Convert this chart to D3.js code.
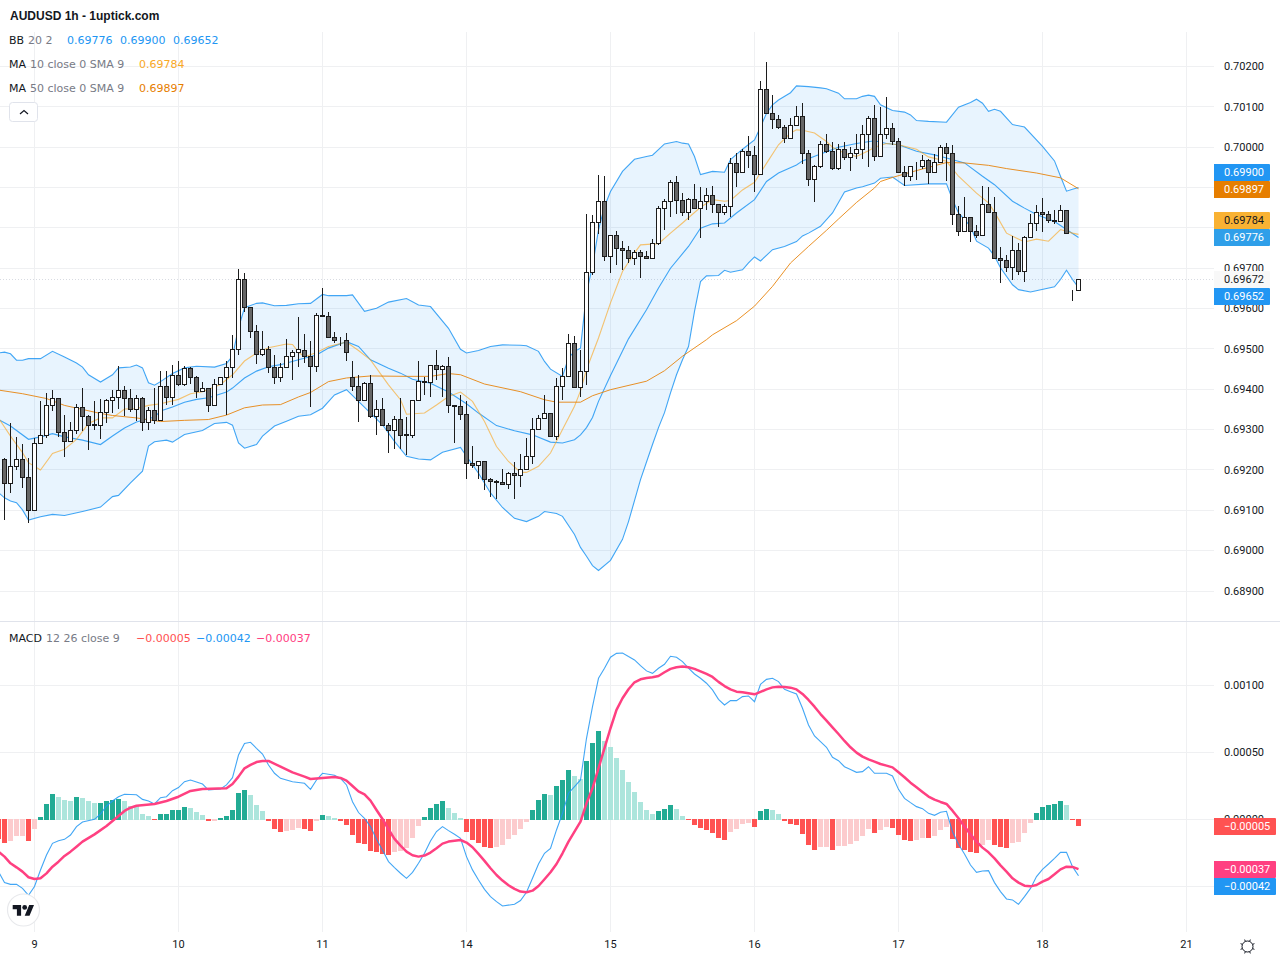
<!DOCTYPE html>
<html>
<head>
<meta charset="utf-8">
<title>AUDUSD 1h</title>
<script src="https://cdn.jsdelivr.net/npm/d3@7/dist/d3.min.js"></script>
<style>
  html, body { margin: 0; padding: 0; background: #fff; }
  svg { display: block; }
  text { font-family: Roboto, sans-serif; }
</style>
</head>
<body>
<svg id="chart" width="1280" height="960"></svg>
<script>
// Hourly candles, quoted in 0.00001 price points.
const open = [
69225,69166,69208,69225,69182,69099,69265,69286,69361,69376,
69292,69271,69299,69356,69332,69311,69311,69342,69371,69379,
69396,69376,69349,69376,69317,69347,69322,69408,69379,69433,
69411,69451,69428,69394,69403,69361,69411,69428,69453,69498,
69671,69602,69542,69485,69498,69453,69428,69455,69480,69490,
69497,69482,69457,69584,69581,69529,69522,69522,69430,69408,
69373,69415,69333,69351,69311,69299,69324,69286,69286,69371,
69420,69418,69460,69450,69457,69361,69358,69338,69217,69212,
69220,69177,69172,69170,69165,69192,69187,69202,69234,69301,
69328,69341,69284,69408,69432,69514,69405,69445,69690,69814,
69866,69730,69780,69750,69745,69725,69738,69730,69725,69762,
69849,69866,69913,69869,69837,69871,69849,69866,69881,69859,
69837,69854,69960,69938,69990,69980,69933,70144,70084,70069,
70050,70022,70054,70077,69985,69921,69953,70007,69990,69946,
69995,69975,69985,69995,70032,70072,69976,70032,70047,70015,
69938,69928,69952,69953,69966,69938,69961,70000,69985,69832,
69792,69825,69790,69782,69857,69837,69725,69720,69703,69745,
69693,69777,69810,69839,69834,69819,69817,69844,69645,69644];
const close = [
69166,69208,69225,69182,69099,69265,69286,69361,69376,69292,
69271,69299,69356,69332,69311,69312,69342,69371,69379,69396,
69376,69349,69376,69317,69347,69322,69408,69379,69433,69411,
69451,69428,69394,69403,69361,69411,69428,69453,69498,69671,
69602,69542,69485,69498,69453,69428,69455,69480,69490,69498,
69482,69457,69584,69581,69529,69522,69521,69492,69408,69373,
69415,69333,69351,69311,69299,69324,69286,69287,69371,69420,
69418,69460,69450,69457,69361,69358,69338,69217,69212,69220,
69177,69172,69170,69165,69192,69187,69202,69234,69301,69328,
69341,69284,69408,69432,69514,69405,69445,69690,69814,69866,
69730,69780,69750,69745,69725,69738,69730,69725,69762,69849,
69866,69913,69869,69837,69871,69849,69866,69881,69859,69837,
69854,69960,69938,69990,69980,69933,70144,70084,70069,70050,
70022,70054,70077,69985,69921,69953,70007,69990,69946,69995,
69975,69985,69995,70032,70072,69976,70032,70047,70015,69938,
69928,69951,69951,69966,69938,69961,70000,69985,69832,69792,
69825,69790,69782,69857,69837,69725,69720,69703,69745,69693,
69777,69810,69839,69834,69819,69817,69844,69787,69644,69672];
const high = [
69230,69317,69282,69265,69230,69278,69372,69391,69399,69376,
69337,69319,69364,69403,69337,69372,69375,69376,69399,69458,
69407,69401,69385,69381,69356,69403,69445,69446,69461,69470,
69457,69455,69434,69419,69403,69426,69428,69470,69535,69699,
69687,69602,69559,69545,69507,69484,69465,69525,69498,69579,
69536,69520,69590,69650,69591,69541,69529,69539,69470,69435,
69419,69436,69373,69379,69316,69334,69379,69331,69374,69470,
69431,69460,69498,69461,69480,69361,69386,69370,69260,69222,
69222,69180,69175,69202,69195,69220,69240,69279,69328,69335,
69385,69341,69428,69452,69536,69532,69497,69835,69832,69931,
69928,69781,69792,69767,69754,69745,69746,69742,69772,69855,
69871,69918,69929,69886,69874,69908,69901,69898,69903,69859,
69859,69973,69985,69995,70028,70002,70163,70210,70129,70079,
70054,70072,70102,70109,69993,69955,70015,70033,70012,70007,
70012,70000,70032,70055,70077,70105,70099,70124,70060,70023,
69953,69954,69963,69980,69971,69983,70005,70010,70005,69854,
69877,69827,69807,69904,69902,69877,69752,69733,69780,69763,
69781,69834,69857,69874,69842,69844,69857,69844,69645,69674];
const low = [
69077,69142,69200,69155,69069,69099,69265,69279,69346,69281,
69232,69271,69288,69296,69249,69300,69276,69317,69340,69350,
69333,69343,69321,69296,69300,69314,69322,69362,69362,69408,
69408,69412,69378,69393,69343,69361,69411,69336,69428,69485,
69592,69528,69462,69482,69441,69414,69417,69455,69424,69455,
69465,69357,69442,69579,69529,69514,69508,69471,69395,69320,
69371,69328,69286,69311,69241,69252,69252,69236,69278,69371,
69387,69382,69423,69382,69340,69266,69324,69177,69204,69177,
69150,69133,69127,69165,69152,69128,69159,69202,69216,69301,
69326,69284,69275,69373,69430,69405,69381,69411,69684,69784,
69717,69687,69709,69695,69713,69707,69676,69723,69723,69758,
69795,69826,69835,69830,69820,69846,69776,69845,69837,69801,
69832,69826,69901,69936,69949,69890,69933,70084,70046,70045,
70010,70022,70054,69958,69903,69863,69948,69985,69943,69943,
69968,69942,69970,69971,69952,69965,69976,70020,70005,69938,
69903,69915,69919,69946,69909,69938,69961,69915,69807,69779,
69792,69764,69776,69779,69837,69723,69663,69690,69672,69683,
69665,69777,69792,69789,69812,69810,69814,69787,69618,69644];

// Indicator lines as [bar, value] pairs; bars are counted from the first candle.
const bbUpper = [[-1,69490],[0,69492],[1,69488],[2,69472],[3,69472],[4,69476],[6,69476],[8,69494],[10,69480],[12,69465],[13,69455],[14,69436],[16,69418],[18,69436],[19,69453],[21,69455],[22,69460],[23,69453],[24,69416],[25,69410],[26,69419],[28,69439],[30,69453],[32,69457],[35,69455],[37,69464],[38,69482],[39,69552],[40,69602],[42,69613],[43,69614],[45,69607],[47,69608],[49,69612],[51,69613],[53,69635],[54,69632],[57,69632],[58,69634],[60,69593],[62,69601],[64,69616],[67,69625],[69,69609],[71,69605],[74,69551],[76,69499],[77,69490],[79,69496],[81,69506],[83,69510],[86,69509],[87,69508],[89,69494],[90,69469],[91,69450],[93,69432],[94,69478],[95,69494],[96,69502],[97,69639],[98,69705],[99,69795],[100,69853],[101,69890],[103,69940],[105,69970],[107,69977],[108,69980],[110,70008],[112,70014],[113,70010],[114,70008],[115,69977],[116,69932],[118,69940],[120,69938],[121,69969],[123,69995],[125,70018],[126,70050],[127,70084],[128,70105],[129,70117],[131,70135],[132,70152],[134,70150],[136,70147],[137,70145],[139,70134],[140,70120],[142,70120],[143,70126],[144,70129],[145,70126],[146,70105],[148,70091],[150,70087],[151,70080],[152,70066],[154,70064],[157,70062],[159,70099],[161,70111],[162,70119],[163,70109],[164,70089],[165,70094],[166,70089],[168,70056],[170,70050],[173,70002],[175,69966],[176,69928],[177,69891],[178,69896],[179,69900]];
const bbMiddle = [[-1,69325],[1,69309],[4,69276],[6,69282],[8,69290],[10,69282],[13,69274],[16,69263],[18,69284],[20,69304],[22,69319],[25,69331],[26,69346],[28,69356],[30,69368],[32,69375],[34,69379],[37,69393],[38,69403],[40,69428],[42,69445],[44,69456],[46,69461],[49,69473],[52,69485],[54,69502],[57,69518],[59,69506],[61,69473],[64,69452],[66,69440],[68,69425],[71,69415],[74,69393],[77,69364],[79,69341],[82,69310],[85,69297],[88,69287],[91,69269],[93,69267],[95,69275],[96,69287],[97,69305],[98,69330],[99,69370],[101,69434],[104,69525],[107,69597],[109,69651],[111,69700],[114,69754],[116,69799],[118,69810],[120,69812],[122,69837],[125,69870],[127,69915],[129,69936],[132,69956],[133,69966],[136,69983],[139,70000],[142,70009],[145,70016],[147,70009],[149,70006],[152,69990],[155,69981],[157,69973],[160,69961],[163,69928],[165,69907],[168,69866],[170,69849],[172,69833],[175,69816],[179,69776]];
const bbLower = [[-1,69144],[0,69131],[1,69123],[2,69119],[3,69101],[4,69076],[6,69084],[8,69090],[10,69087],[13,69097],[16,69108],[18,69134],[19,69137],[21,69168],[23,69197],[24,69259],[25,69270],[27,69274],[28,69269],[30,69288],[33,69298],[35,69315],[37,69318],[38,69311],[39,69267],[40,69254],[42,69263],[43,69284],[45,69309],[47,69321],[49,69333],[51,69337],[53,69353],[55,69386],[57,69399],[59,69370],[61,69341],[63,69312],[65,69271],[67,69234],[69,69227],[71,69225],[73,69244],[76,69256],[77,69234],[79,69192],[81,69143],[83,69107],[85,69080],[87,69072],[89,69085],[90,69097],[92,69092],[93,69085],[95,69040],[96,69008],[97,68986],[98,68963],[99,68951],[101,68976],[103,69028],[104,69072],[106,69176],[108,69263],[109,69305],[110,69342],[111,69391],[112,69436],[113,69473],[114,69506],[115,69593],[116,69667],[117,69681],[119,69682],[120,69695],[121,69690],[123,69696],[124,69713],[125,69728],[126,69718],[128,69746],[130,69754],[132,69766],[133,69780],[134,69787],[136,69804],[138,69837],[140,69889],[142,69899],[143,69902],[145,69911],[146,69923],[148,69926],[150,69905],[154,69909],[157,69909],[158,69870],[159,69837],[161,69804],[162,69767],[164,69750],[165,69730],[166,69701],[168,69659],[169,69647],[171,69641],[175,69654],[176,69672],[177,69695],[178,69672],[179,69652]];
const ma10 = [[-1,69329],[1,69284],[3,69243],[4,69218],[6,69200],[8,69241],[10,69251],[12,69276],[14,69315],[16,69329],[18,69329],[20,69351],[22,69352],[24,69360],[26,69364],[29,69375],[31,69389],[33,69394],[36,69412],[38,69436],[40,69470],[42,69490],[44,69503],[47,69512],[48,69511],[49,69492],[50,69480],[52,69491],[54,69506],[57,69517],[59,69496],[61,69473],[64,69411],[66,69374],[67,69338],[70,69341],[72,69361],[74,69382],[76,69393],[78,69370],[80,69320],[82,69258],[84,69221],[86,69194],[87,69194],[89,69209],[91,69242],[93,69300],[95,69358],[96,69396],[97,69449],[99,69527],[101,69614],[103,69692],[105,69738],[106,69758],[109,69761],[111,69787],[113,69812],[116,69851],[118,69870],[120,69866],[121,69868],[123,69894],[125,69913],[127,69960],[129,70006],[131,70035],[132,70043],[133,70042],[135,70035],[137,70014],[138,70000],[140,69985],[142,69977],[144,69991],[145,70000],[147,70009],[149,70006],[152,69995],[154,69976],[157,69965],[159,69928],[162,69886],[164,69862],[165,69839],[167,69787],[170,69765],[172,69772],[174,69767],[176,69796],[178,69787],[179,69784]];
const ma50 = [[-1,69398],[3,69389],[7,69377],[10,69360],[13,69350],[16,69340],[18,69335],[22,69329],[26,69320],[30,69323],[34,69325],[37,69336],[40,69354],[43,69361],[46,69362],[49,69381],[51,69392],[54,69419],[57,69428],[61,69433],[67,69432],[71,69432],[74,69439],[76,69436],[80,69413],[86,69394],[90,69374],[92,69368],[96,69368],[98,69384],[101,69399],[107,69420],[110,69446],[113,69482],[117,69523],[118,69535],[122,69570],[125,69606],[128,69655],[131,69713],[134,69754],[137,69794],[139,69822],[142,69863],[145,69899],[146,69915],[148,69925],[151,69938],[155,69954],[157,69962],[160,69961],[164,69955],[167,69947],[172,69936],[176,69924],[179,69897]];

// MACD pane, in 0.00001 units. The histogram starts one bar before the first candle.
const macdHist = [-14.4,
-17.7,-16,-12.4,-12.3,-16,-7.2,1.7,11.4,18.9,16.7,
14.4,13.7,16.7,15.9,13.7,12.2,12.3,13.7,14.4,15.2,
13.7,10,9.9,4,2.5,-0.7,4,4.1,7,7.1,
9.2,8.5,5.5,3.2,-1.2,-1.1,1,2.5,7,19.7,
21.9,18.2,10.7,6.2,-1.2,-7.2,-9.5,-8.7,-8,-6.5,
-7.2,-8.7,-1.2,3.2,2.5,1,-1.2,-4.2,-11.7,-17.7,
-18.4,-23.6,-24.4,-25.9,-26.6,-24.4,-23.6,-21.4,-13.9,-5,
1.7,8.5,11.4,13.7,8.5,4.7,1,-9.5,-15.4,-17.7,
-20.6,-21.4,-20.6,-19.2,-14.7,-11.7,-7.2,-2,7,14.4,
18.9,18.2,24.9,29.4,36.8,32.3,30,43.5,57,65.9,
58.5,54,45.8,36.8,27.9,20.4,12.9,7,4,6.2,
7.7,10.7,7.7,2.5,-0.5,-4.2,-6.5,-8,-10.2,-13.9,
-15.4,-9.5,-7.2,-3.5,-2.7,-5.7,6.2,7.7,7,4,
-1.2,-3.5,-4.2,-10.9,-19.2,-22.9,-20.6,-20.5,-22.9,-19.9,
-19.8,-18.4,-16.2,-12.4,-7.2,-10.2,-8,-5.7,-6.5,-11.7,
-15.4,-16.2,-15.4,-13.9,-14,-12.4,-8,-5.7,-14.7,-21.4,
-22.9,-24.4,-25.1,-19.2,-15.4,-19.2,-20.6,-21.4,-17.7,-16.9,
-10.2,-2.7,4.7,9.2,10.7,11.4,13.7,10.7,-0.5,-5];
const macdLine = [[-1,-39],[0,-47],[1,-48.4],[2,-48.4],[3,-51.4],[4,-56.6],[5,-50],[6,-37.7],[7,-26.5],[8,-17.8],[9,-15.8],[10,-14.8],[11,-11.6],[12,-5.3],[13,-1.9],[15,0.1],[16,4.1],[17,10.1],[18,13.8],[19,17],[20,18.8],[22,18.5],[23,15],[24,13.8],[25,11.6],[26,16.3],[27,17],[28,21.5],[29,23.8],[30,28.2],[31,29.5],[33,26.5],[34,22],[36,22.8],[37,25.8],[38,31.2],[39,48.1],[40,56.8],[41,57.6],[42,53.1],[43,48.9],[44,40.7],[45,34.5],[46,30.7],[48,28.2],[50,27],[51,22.5],[52,29.5],[53,34.5],[55,33],[56,30.7],[57,25.8],[58,13.3],[59,5.2],[60,0.9],[61,-5.3],[62,-14.8],[63,-22.7],[64,-31.4],[65,-35.9],[66,-40.1],[67,-43.9],[68,-39.4],[69,-32.7],[70,-25.2],[71,-16],[72,-9],[73,-5.3],[74,-8.3],[75,-11],[76,-14],[77,-27.7],[78,-37.6],[79,-45.1],[80,-52.1],[81,-57.5],[82,-61.3],[83,-64.5],[85,-63.3],[86,-60.5],[87,-54.3],[88,-43.9],[89,-33.2],[90,-25.2],[91,-21.5],[92,-7.8],[93,4.6],[94,19.6],[95,24.5],[96,29.5],[97,60.6],[98,84.2],[99,105.4],[100,112.9],[101,121.1],[102,124],[103,124.3],[104,121.6],[105,119.1],[106,114.8],[107,110.9],[108,109.1],[109,112.9],[110,115.8],[111,121.8],[112,121.1],[113,117.8],[114,112.9],[115,108.6],[116,105.4],[117,101.7],[118,96.7],[119,89.7],[120,85.5],[121,88.7],[122,88.7],[123,91.7],[124,92.2],[125,87.9],[126,100.9],[127,104.6],[128,105.4],[129,102.9],[130,97.1],[131,95.4],[132,93.7],[133,83],[134,70.5],[135,62.3],[136,58.1],[137,53.9],[138,46.4],[139,43.9],[140,39.4],[141,37.4],[142,35.2],[143,35.7],[144,39.4],[145,34.5],[147,34.5],[148,32.5],[149,22.5],[150,15.8],[151,12.6],[152,9.6],[153,8.1],[154,4.6],[155,3.1],[156,5.4],[157,6.1],[158,-9.1],[159,-18.5],[160,-25.7],[161,-34],[162,-39.4],[163,-38.4],[164,-38.2],[165,-47.1],[166,-53.8],[167,-59.3],[168,-60],[169,-63.3],[170,-57.6],[171,-51.4],[172,-42.6],[173,-37.2],[174,-33.2],[175,-29],[176,-24.5],[177,-24.5],[178,-35.2],[179,-42]];
const macdSignal = [[-1,-24],[0,-27.7],[1,-32.7],[2,-35.7],[3,-38.9],[4,-43.1],[5,-44.4],[6,-43.9],[7,-40.2],[8,-35.2],[9,-31.5],[10,-27.2],[11,-24],[12,-20.3],[13,-16.5],[15,-11.1],[17,-4.8],[18,-1.1],[19,2.6],[20,6.4],[21,8.8],[22,10.3],[25,11.6],[27,13.8],[29,17],[31,21.3],[33,22.8],[37,23.3],[38,26.5],[39,32],[40,38.2],[41,40.7],[42,42.9],[43,43.7],[44,43.7],[46,39.4],[48,35.2],[50,32],[51,30.2],[53,31],[55,31.7],[56,31],[57,29],[58,25],[59,21],[60,18.8],[61,14.1],[62,7.1],[63,0.4],[64,-7.3],[65,-14.5],[66,-19.5],[67,-24],[68,-26.7],[69,-27.7],[70,-26.9],[71,-24.7],[72,-21.5],[73,-18],[74,-16.5],[76,-15.3],[77,-17.2],[78,-20.7],[79,-25.7],[80,-30.9],[81,-36.4],[82,-41.4],[83,-45.6],[84,-49.1],[85,-51.8],[86,-53.8],[87,-54.3],[88,-53.1],[89,-49.6],[90,-44.6],[91,-39.4],[92,-33.2],[93,-25.2],[94,-16.5],[95,-9],[96,-1.6],[97,12.1],[98,23.3],[99,38.2],[100,53.2],[101,68.1],[102,81.8],[103,90.5],[104,97.2],[105,102.4],[106,104.6],[107,105.6],[108,106.1],[109,107.1],[110,109.9],[111,112.4],[112,113.6],[113,114.1],[114,113.6],[115,112.4],[116,110.6],[117,108.6],[118,106.4],[119,102.7],[120,99.6],[121,97.1],[122,95.4],[123,94.9],[124,94.2],[125,93.4],[126,95.2],[127,97.1],[128,98.6],[129,99.1],[130,98.9],[131,98.4],[132,97.1],[133,93.7],[134,89.2],[135,84.2],[136,78.7],[137,73.8],[138,68.8],[139,63.8],[140,58.6],[141,53.9],[142,49.9],[143,46.9],[144,44.9],[145,43.2],[146,41.4],[147,40.2],[148,38.9],[149,35.2],[150,31.5],[151,27.5],[152,24],[153,20.5],[154,17.1],[155,14.8],[156,13.1],[157,11.6],[158,6.6],[159,0.9],[160,-5.3],[161,-11.1],[162,-16.5],[163,-21],[164,-24.5],[165,-29],[166,-34.2],[167,-38.9],[168,-43.9],[169,-47.1],[170,-49.4],[171,-49.9],[172,-48.9],[173,-46.4],[174,-44.4],[175,-40.9],[176,-37.2],[177,-35.2],[178,-35.4],[179,-37]];

// Axis ticks and labels.
const priceTicks = [0.702,0.701,0.700,0.699,0.698,0.697,0.696,0.695,0.694,0.693,0.692,0.691,0.690,0.689];
const macdTicks = [0.001,0.0005,0,-0.0005];
const dayBars = [5,29,53,77,101,125,149,173,197];
const dayLabels = ["9","10","11","14","15","16","17","18","21"];

const colors = {
  ink: "#131722", muted: "#787b86", grid: "#eff0f2", sep: "#e0e3eb",
  bb: "#2196f3", bbFill: "rgba(33,150,243,0.1)", ma10: "#f9a825", ma50: "#e67e00",
  wick: "#1c1c1c", down: "#666666", up: "#ffffff",
  teal: "#22ab94", tealLight: "#ace5dc", red: "#ff5252", pink: "#fccbcd",
  signal: "#ff4081"
};
const legendFont = "'DejaVu Sans', sans-serif";

const svg = d3.select("#chart");
const x = d3.scaleLinear().domain([0, 179]).range([4.5, 1078.5]);
const yPrice = d3.scaleLinear().domain([0.702, 0.689]).range([66.5, 591]);
const yMacd = d3.scaleLinear().domain([0.001, -0.0005]).range([685.5, 886.5]);
const toPrice = v => v * 1e-5;
const fmt = v => d3.format(".5f")(v).replace("-", "\u2212");
const crisp = v => Math.round(v - 0.5) + 0.5;

// Background grid for both panes.
const gridG = svg.append("g").attr("fill", "none").attr("stroke", colors.grid);
gridG.selectAll(".gv").data(dayBars).join("line")
  .attr("x1", d => x(d)).attr("x2", d => x(d)).attr("y1", 32).attr("y2", 932);
gridG.selectAll(".gp").data(priceTicks).join("line")
  .attr("x1", 0).attr("x2", 1214)
  .attr("y1", d => crisp(yPrice(d))).attr("y2", d => crisp(yPrice(d)));
gridG.selectAll(".gm").data(macdTicks).join("line")
  .attr("x1", 0).attr("x2", 1214)
  .attr("y1", d => crisp(yMacd(d))).attr("y2", d => crisp(yMacd(d)));

svg.append("line").attr("x1", 0).attr("x2", 1280).attr("y1", 621.5).attr("y2", 621.5)
  .attr("stroke", colors.sep);

// Dotted last-price line.
svg.append("line").attr("x1", 0).attr("x2", 1214)
  .attr("y1", crisp(yPrice(toPrice(close[close.length - 1]))))
  .attr("y2", crisp(yPrice(toPrice(close[close.length - 1]))))
  .attr("stroke", "#d8dbe2").attr("stroke-dasharray", "1 2");

// Bollinger band fill and the three band lines.
const priceLine = d3.line().x(d => x(d[0])).y(d => yPrice(toPrice(d[1])));
svg.append("path")
  .attr("d", priceLine(bbUpper.concat(bbLower.slice().reverse())) + "Z")
  .attr("fill", colors.bbFill);
[[bbUpper, colors.bb, 0.85, 1.1], [bbMiddle, colors.bb, 0.85, 1.1], [bbLower, colors.bb, 0.85, 1.1],
 [ma10, colors.ma10, 0.65, 1.1], [ma50, colors.ma50, 0.85, 1]].forEach(([series, color, alpha, width]) => {
  svg.append("path").attr("d", priceLine(series))
    .attr("fill", "none").attr("stroke", color).attr("stroke-opacity", alpha).attr("stroke-width", width);
});

// Candles: one wick and one body per bar.
const bars = d3.range(open.length).map(i => ({ i, o: toPrice(open[i]), c: toPrice(close[i]), h: toPrice(high[i]), l: toPrice(low[i]) }));
const candleG = svg.append("g");
candleG.selectAll(".wick").data(bars).join("line")
  .attr("x1", d => x(d.i)).attr("x2", d => x(d.i))
  .attr("y1", d => Math.round(yPrice(d.h))).attr("y2", d => Math.round(yPrice(d.l)))
  .attr("stroke", colors.wick);
candleG.selectAll(".body").data(bars).join("rect")
  .attr("x", d => x(d.i) - 2).attr("width", 4)
  .attr("y", d => crisp(yPrice(Math.max(d.o, d.c))))
  .attr("height", d => crisp(yPrice(Math.min(d.o, d.c))) - crisp(yPrice(Math.max(d.o, d.c))))
  .attr("fill", d => d.c < d.o ? colors.down : colors.up)
  .attr("stroke", colors.wick);

// MACD histogram; shade depends on the sign and on the change from the previous bar.
const histData = macdHist.map((v, i) => ({ bar: i - 1, v: v * 1e-5, prev: i ? macdHist[i - 1] * 1e-5 : 0 }));
const histColor = d => d.v >= 0
  ? (d.v > d.prev ? colors.teal : colors.tealLight)
  : (d.v < d.prev ? colors.red : colors.pink);
svg.append("g").selectAll("rect").data(histData).join("rect")
  .attr("x", d => x(d.bar) - 2.5).attr("width", 5)
  .attr("y", d => d.v >= 0 ? Math.round(yMacd(d.v)) : 819)
  .attr("height", d => d.v >= 0 ? 820 - Math.round(yMacd(d.v)) : Math.round(yMacd(d.v)) - 819)
  .attr("fill", histColor);

const macdPath = d3.line().x(d => x(d[0])).y(d => yMacd(d[1] * 1e-5));
svg.append("path").attr("d", macdPath(macdLine)).attr("fill", "none")
  .attr("stroke", colors.bb).attr("stroke-opacity", 0.85).attr("stroke-width", 1.1);
svg.append("path").attr("d", macdPath(macdSignal)).attr("fill", "none")
  .attr("stroke", colors.signal).attr("stroke-width", 2.5).attr("stroke-linejoin", "round");

// Price, MACD and time axes.
function styleAxis(g) {
  g.select(".domain").remove();
  g.selectAll("text").attr("fill", colors.ink).style("font-size", "11px").style("font-family", "Roboto, sans-serif");
}
svg.append("g").attr("transform", "translate(1224,-0.2)")
  .call(d3.axisRight(yPrice).tickValues(priceTicks).tickSize(0).tickPadding(0).tickFormat(fmt))
  .call(styleAxis);
svg.append("g").attr("transform", "translate(1224,-0.2)")
  .call(d3.axisRight(yMacd).tickValues(macdTicks).tickSize(0).tickPadding(0).tickFormat(fmt))
  .call(styleAxis);
svg.append("g").attr("transform", "translate(-0.5,937)")
  .call(d3.axisBottom(x).tickValues(dayBars).tickSize(0).tickPadding(3).tickFormat((d, i) => dayLabels[i]))
  .call(styleAxis);

// Value tags on the price axis.
const lastBB = [bbMiddle, bbUpper, bbLower].map(s => s[s.length - 1][1]);
const lastMa10 = ma10[ma10.length - 1][1], lastMa50 = ma50[ma50.length - 1][1];
const lastClose = close[close.length - 1];
const lastHist = macdHist[macdHist.length - 1], lastMacd = macdLine[macdLine.length - 1][1], lastSig = macdSignal[macdSignal.length - 1][1];
const tags = [
  { top: 164, v: toPrice(lastBB[1]), bg: "#2196f3", fg: "#fff", w: 56 },
  { top: 181, v: toPrice(lastMa50), bg: "#e67e00", fg: "#fff", w: 56 },
  { top: 212, v: toPrice(lastMa10), bg: "#f9b233", fg: "#131722", w: 56 },
  { top: 229, v: toPrice(lastBB[0]), bg: "#2f9fe9", fg: "#fff", w: 56 },
  { top: 271, v: toPrice(lastClose), bg: "#f8f8f8", fg: "#131722", w: 56 },
  { top: 288, v: toPrice(lastBB[2]), bg: "#2196f3", fg: "#fff", w: 56 },
  { top: 818, v: lastHist * 1e-5, bg: colors.red, fg: "#fff", w: 62 },
  { top: 861, v: lastSig * 1e-5, bg: colors.signal, fg: "#fff", w: 62 },
  { top: 878, v: lastMacd * 1e-5, bg: "#2196f3", fg: "#fff", w: 62 }
];
const tagG = svg.append("g").selectAll("g").data(tags).join("g")
  .attr("transform", d => `translate(1214,${d.top})`);
tagG.append("path")
  .attr("d", d => `M0,0H${d.w - 1}Q${d.w},0 ${d.w},1V16Q${d.w},17 ${d.w - 1},17H0Z`)
  .attr("fill", d => d.bg);
tagG.append("text").attr("x", 10).attr("y", 12)
  .attr("fill", d => d.fg).style("font-size", "11px").text(d => fmt(d.v));

// Legend rows.
function legendRow(y, parts) {
  parts.forEach(p => {
    svg.append("text").attr("x", p.x).attr("y", y).attr("fill", p.color)
      .style("font-family", legendFont).style("font-size", "11px").text(p.text);
  });
}
svg.append("text").attr("x", 10).attr("y", 20)
  .style("font-family", "'Liberation Sans', Arial, sans-serif").style("font-weight", "bold")
  .style("font-size", "12px").attr("fill", colors.ink).text("AUDUSD 1h - 1uptick.com");
legendRow(44, [
  { x: 9, text: "BB", color: colors.ink }, { x: 28, text: "20 2", color: colors.muted },
  { x: 67, text: fmt(toPrice(lastBB[0])), color: colors.bb },
  { x: 120, text: fmt(toPrice(lastBB[1])), color: colors.bb },
  { x: 173, text: fmt(toPrice(lastBB[2])), color: colors.bb }
]);
legendRow(68, [
  { x: 9, text: "MA", color: colors.ink }, { x: 30, text: "10 close 0 SMA 9", color: colors.muted },
  { x: 139, text: fmt(toPrice(lastMa10)), color: colors.ma10 }
]);
legendRow(92, [
  { x: 9, text: "MA", color: colors.ink }, { x: 30, text: "50 close 0 SMA 9", color: colors.muted },
  { x: 139, text: fmt(toPrice(lastMa50)), color: colors.ma50 }
]);
legendRow(642, [
  { x: 9, text: "MACD", color: colors.ink }, { x: 46, text: "12 26 close 9", color: colors.muted },
  { x: 136, text: fmt(lastHist * 1e-5), color: colors.red },
  { x: 196, text: fmt(lastMacd * 1e-5), color: colors.bb },
  { x: 256, text: fmt(lastSig * 1e-5), color: colors.signal }
]);

// Collapse button under the legend.
svg.append("rect").attr("x", 9.5).attr("y", 102.5).attr("width", 28).attr("height", 19).attr("rx", 3)
  .attr("fill", "#fff").attr("stroke", "#e0e3eb");
svg.append("path").attr("d", "M20,114l4-3.5l4,3.5").attr("fill", "none").attr("stroke", colors.ink).attr("stroke-width", 1.2);

// Round logo badge in the lower-left corner.
svg.append("circle").attr("cx", 23.5).attr("cy", 910).attr("r", 16).attr("fill", "#fff").attr("stroke", "#e8e9ec").attr("stroke-width", 1.2);
const logo = svg.append("g").attr("transform", "translate(12.7,902.6) scale(0.6)").attr("fill", "#131722");
logo.append("path").attr("d", "M14 22H7V11H0V4h14v18zM28 22h-8l7.5-18h8L28 22z");
logo.append("circle").attr("cx", 20).attr("cy", 8).attr("r", 4);

// Settings icon at the end of the time axis.
const gear = svg.append("g").attr("transform", "translate(1247.5,946.5)").attr("stroke", colors.ink).attr("fill", "none");
gear.append("circle").attr("r", 5.5);
d3.range(8).forEach(i => {
  const a = i * Math.PI / 4 + Math.PI / 8;
  gear.append("line").attr("x1", 5.5 * Math.cos(a)).attr("y1", 5.5 * Math.sin(a))
    .attr("x2", 7.5 * Math.cos(a)).attr("y2", 7.5 * Math.sin(a));
});
</script>
</body>
</html>
